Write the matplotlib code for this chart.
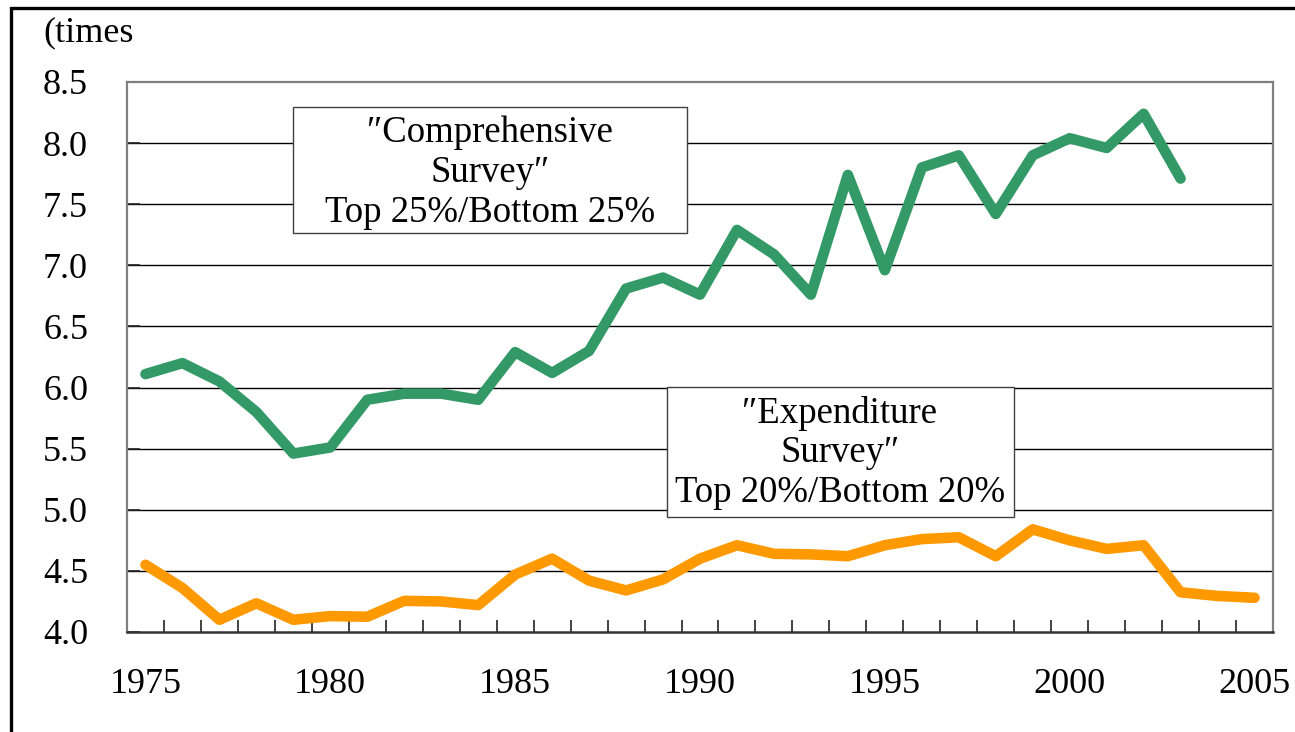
import numpy as np
import matplotlib
matplotlib.use("Agg")
from matplotlib import pyplot as plt
from matplotlib.patches import Rectangle

plt.rcParams['font.family'] = ['Liberation Serif', 'DejaVu Serif']

years_green = list(range(1975, 2004))
comprehensive = [6.11, 6.20, 6.05, 5.80, 5.46, 5.51, 5.90, 5.95, 5.95, 5.90,
                 6.29, 6.12, 6.30, 6.81, 6.90, 6.76, 7.29, 7.09, 6.76, 7.74,
                 6.96, 7.80, 7.90, 7.42, 7.90, 8.04, 7.96, 8.24, 7.71]

years_orange = list(range(1975, 2006))
expenditure = [4.55, 4.36, 4.10, 4.235, 4.10, 4.13, 4.125, 4.255, 4.25, 4.22,
               4.47, 4.60, 4.42, 4.34, 4.43, 4.60, 4.71, 4.64, 4.635, 4.62,
               4.71, 4.76, 4.775, 4.62, 4.84, 4.75, 4.68, 4.71, 4.325, 4.295,
               4.28]

label_green = "″Comprehensive\nSurvey″\nTop 25%/Bottom 25%"
label_orange = "″Expenditure\nSurvey″\nTop 20%/Bottom 20%"

W, H = 1295, 732
fig = plt.figure(figsize=(W / 100, H / 100), dpi=100)
ax = fig.add_axes([127 / W, 1 - 632 / H, (1273 - 127) / W, (632 - 82) / H])

ax.plot(years_green, comprehensive, color='#339966', lw=7.6,
        solid_capstyle='round', solid_joinstyle='round', zorder=3)
ax.plot(years_orange, expenditure, color='#FF9900', lw=7.6,
        solid_capstyle='round', solid_joinstyle='round', zorder=3)

ax.set_xlim(1974.5, 2005.5)
ax.set_ylim(4.0, 8.5)
ax.set_yticks(np.arange(4.0, 8.51, 0.5))
ax.set_yticklabels(['%.1f' % v for v in np.arange(4.0, 8.51, 0.5)])
ax.set_xticks(range(1975, 2006, 5))
ax.set_xticks(np.arange(1974.5, 2005.6, 1), minor=True)
ax.tick_params(axis='x', which='major', length=0, pad=26, labelsize=26)
ax.tick_params(axis='x', which='minor', direction='in', length=9,
               width=1.2, color='#222222')
ax.tick_params(axis='y', which='major', direction='in', length=9,
               width=1.2, pad=28, labelsize=26, color='#222222')

for v in np.arange(4.5, 8.4, 0.5):
    ax.axhline(v, color='black', lw=1.0, zorder=1)

for side in ['left', 'top', 'right']:
    ax.spines[side].set_color('#808080')
    ax.spines[side].set_linewidth(1.6)
ax.spines['bottom'].set_color('#333333')
ax.spines['bottom'].set_linewidth(1.8)

# text boxes
fig.add_artist(Rectangle((293 / W, 1 - 233 / H), (687 - 293) / W, (233 - 107) / H,
                         transform=fig.transFigure, facecolor='white',
                         edgecolor='#404040', lw=1.0, zorder=5))
fig.text(490 / W, 1 - 173 / H, label_green, ha='center', va='center',
         multialignment='center', fontsize=26.5, linespacing=1.2, zorder=6)

fig.add_artist(Rectangle((667 / W, 1 - 517 / H), (1014 - 667) / W, (517 - 387) / H,
                         transform=fig.transFigure, facecolor='white',
                         edgecolor='#404040', lw=1.0, zorder=5))
fig.text(840 / W, 1 - 453 / H, label_orange, ha='center', va='center',
         multialignment='center', fontsize=26.5, linespacing=1.2, zorder=6)

fig.text(43 / W, 1 - 33 / H, '(times', ha='left', va='center', fontsize=26)

# outer frame
fig.add_artist(Rectangle((11 / W, -0.1), 1.2, 1.1 - 7.5 / H,
                         transform=fig.transFigure, facecolor='none',
                         edgecolor='black', lw=2.4, clip_on=False))

fig.savefig('out.png', dpi=100)
